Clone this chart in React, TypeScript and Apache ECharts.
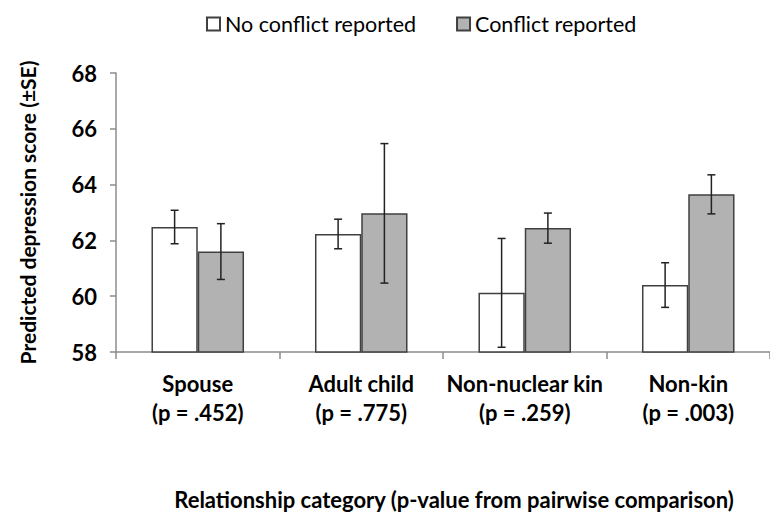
import React, { useEffect, useRef } from "react";
import * as echarts from "echarts";

const categories = ["Spouse", "Adult child", "Non-nuclear kin", "Non-kin"];
const pValues = ["(p = .452)", "(p = .775)", "(p = .259)", "(p = .003)"];
const noConflict = [62.48, 62.23, 60.12, 60.4];
const noConflictSE = [0.6, 0.53, 1.95, 0.8];
const conflict = [61.6, 62.97, 62.44, 63.65];
const conflictSE = [1.0, 2.5, 0.54, 0.7];
const yTicks = { min: 58, max: 68, interval: 2 };

const FONT = "Lato, 'Open Sans', sans-serif";
const BAR_FRAC = 0.283;

function errorSeries(name: string, means: number[], ses: number[], side: number) {
  return {
    type: "custom",
    name,
    data: means.map((m, i) => [i, m, ses[i]]),
    encode: { x: 0, y: 1 },
    z: 5,
    renderItem: (params: any, api: any) => {
      const idx = api.value(0);
      const val = api.value(1);
      const se = api.value(2);
      const catW = api.size([1, 0])[0];
      const bw = catW * BAR_FRAC;
      const cx = api.coord([idx, val])[0] + side * bw / 2;
      const top = api.coord([idx, val + se])[1];
      const bot = api.coord([idx, val - se])[1];
      const cap = 4;
      const style = { stroke: "#222", lineWidth: 1.5 };
      return {
        type: "group",
        children: [
          { type: "line", shape: { x1: cx, y1: top, x2: cx, y2: bot }, style },
          { type: "line", shape: { x1: cx - cap, y1: top, x2: cx + cap, y2: top }, style },
          { type: "line", shape: { x1: cx - cap, y1: bot, x2: cx + cap, y2: bot }, style },
        ],
      };
    },
  };
}

export default function App() {
  const ref = useRef<HTMLDivElement>(null);
  useEffect(() => {
    if (!ref.current) return;
    const chart = echarts.init(ref.current, undefined, { renderer: "svg" });
    chart.setOption({
      animation: false,
      backgroundColor: "#fff",
      textStyle: { fontFamily: FONT },
      legend: {
        data: ["No conflict reported", "Conflict reported"],
        left: 201,
        top: 8,
        icon: "rect",
        itemWidth: 13,
        itemHeight: 13,
        itemGap: 40,
        textStyle: { fontSize: 21.5, color: "#000", fontFamily: FONT },
      },
      grid: { left: 116, right: -10, top: 73, bottom: 161 },
      xAxis: {
        type: "category",
        data: categories,
        axisLine: { lineStyle: { color: "#8c8c8c", width: 1.5 } },
        axisTick: { show: true, length: 7, lineStyle: { color: "#8c8c8c", width: 1.5 } },
        axisLabel: {
          interval: 0,
          margin: 17,
          fontSize: 22,
          fontWeight: "bold",
          color: "#000",
          lineHeight: 29,
          formatter: (v: string) => {
            const i = categories.indexOf(v);
            return v + "\n" + pValues[i];
          },
        },
        name: "Relationship category (p-value from pairwise comparison)",
        nameLocation: "middle",
        nameGap: 136,
        nameTextStyle: { fontSize: 22, fontWeight: "bold", color: "#000", padding: [0, 0, 0, 22] },
      },
      yAxis: {
        type: "value",
        min: yTicks.min,
        max: yTicks.max,
        interval: yTicks.interval,
        splitLine: { show: false },
        axisLine: { show: true, lineStyle: { color: "#8c8c8c", width: 1.5 } },
        axisTick: { show: true, length: 6, lineStyle: { color: "#8c8c8c", width: 1.5 } },
        axisLabel: { fontSize: 22, fontWeight: "bold", color: "#000", margin: 19 },
        name: "Predicted depression score (±SE)",
        nameLocation: "middle",
        nameGap: 78,
        nameTextStyle: { fontSize: 21, fontWeight: "bold", color: "#000" },
      },
      series: [
        {
          type: "bar",
          name: "No conflict reported",
          data: noConflict,
          barWidth: (BAR_FRAC * 100).toFixed(1) + "%",
          barGap: "0%",
          itemStyle: { color: "#ffffff", borderColor: "#404040", borderWidth: 1.5 },
        },
        {
          type: "bar",
          name: "Conflict reported",
          data: conflict,
          barWidth: (BAR_FRAC * 100).toFixed(1) + "%",
          barGap: "0%",
          itemStyle: { color: "#b2b2b2", borderColor: "#404040", borderWidth: 1.5 },
        },
        errorSeries("err-no", noConflict, noConflictSE, -1),
        errorSeries("err-yes", conflict, conflictSE, 1),
      ],
    });
    return () => chart.dispose();
  }, []);
  return (
    <div
      ref={ref}
      style={{ position: "absolute", left: 0, top: 0, width: 770, height: 515 }}
    />
  );
}
